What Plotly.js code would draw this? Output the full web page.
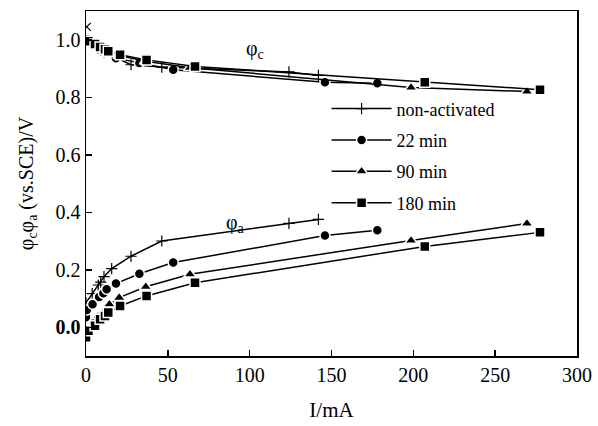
<!DOCTYPE html>
<html>
<head>
<meta charset="utf-8">
<script src="https://cdn.plot.ly/plotly-3.0.1.min.js"></script>
<style>html,body{margin:0;padding:0;background:#fff;}#chart{width:598px;height:426px;}</style>
</head>
<body>
<div id="chart"></div>
<script>
// ---- data (I in mA, potential in V vs. SCE) ----
const seriesNames = ["non-activated", "22 min", "90 min", "180 min"];

const xNon = [0, 3.8, 7.5, 9, 11, 15.7, 27.5, 46.3, 124, 142];
const cathNon = [1.0, 0.985, 0.97, 0.965, 0.958, 0.945, 0.913, 0.905, 0.888, 0.876];
const anodNon = [0.085, 0.117, 0.147, 0.157, 0.176, 0.204, 0.247, 0.300, 0.361, 0.375];

const x22 = [0, 0.5, 4, 8, 10.6, 12.6, 18.3, 32.6, 53.3, 146, 178];
const cath22 = [1.005, 0.995, 0.985, 0.972, 0.965, 0.958, 0.936, 0.919, 0.896, 0.852, 0.849];
const anod22 = [0.035, 0.06, 0.08, 0.105, 0.118, 0.132, 0.152, 0.186, 0.225, 0.319, 0.337];

const x90 = [0.5, 4.5, 7.5, 10.6, 12.6, 14.3, 20.3, 36.5, 63.5, 198.6, 269.4];
const cath90 = [1.0, 0.99, 0.98, 0.97, 0.963, 0.957, 0.945, 0.925, 0.903, 0.834, 0.820];
const anod90 = [-0.01, 0.02, 0.039, 0.051, 0.066, 0.080, 0.103, 0.141, 0.184, 0.302, 0.361];

const x180 = [0, 1.5, 5.5, 8.6, 11.6, 13.6, 20.8, 37, 66.6, 207, 277.4];
const cath180 = [1.0, 0.995, 0.985, 0.975, 0.967, 0.96, 0.948, 0.93, 0.907, 0.852, 0.826];
const anod180 = [-0.035, -0.012, 0.005, 0.028, 0.039, 0.051, 0.074, 0.109, 0.155, 0.281, 0.330];

// open-circuit point marked with a cross
const xOC = [0.5];
const yOC = [1.045];

const xTicks = [0, 50, 100, 150, 200, 250, 300];
const yTicks = [0, 0.2, 0.4, 0.6, 0.8, 1.0];
const yTickText = ["<b>0.0</b>", "0.2", "0.4", "0.6", "0.8", "1.0"];

// ---- styling ----
const serif = "Liberation Serif";
const markerStyles = [
  {symbol: "cross-thin", size: 8, color: "#000", line: {color: "#000", width: 1.2}},
  {symbol: "circle", size: 10, color: "#000", line: {color: "#fff", width: 1.5}},
  {symbol: "triangle-up", size: 11, color: "#000", line: {color: "#fff", width: 1.5}},
  {symbol: "square", size: 10, color: "#000", line: {color: "#fff", width: 1.5}}
];
const xs = [xNon, x22, x90, x180];
const cs = [cathNon, cath22, cath90, cath180];
const as = [anodNon, anod22, anod90, anod180];

const traces = [];
for (let i = 0; i < 4; i++) {
  traces.push({
    x: xs[i], y: cs[i], type: "scatter", mode: "lines+markers",
    name: seriesNames[i], legendgroup: "g" + i, showlegend: true,
    line: {color: "#000", width: 1.5}, marker: markerStyles[i]
  });
}
for (let i = 0; i < 4; i++) {
  traces.push({
    x: xs[i], y: as[i], type: "scatter", mode: "lines+markers",
    name: seriesNames[i], legendgroup: "g" + i, showlegend: false,
    line: {color: "#000", width: 1.5}, marker: markerStyles[i]
  });
}
traces.push({
  x: xOC, y: yOC, type: "scatter", mode: "markers", showlegend: false,
  marker: {symbol: "x-thin", size: 8, color: "#000", line: {color: "#000", width: 1.2}}
});

const layout = {
  width: 598, height: 426,
  margin: {l: 86, r: 21, t: 11, b: 70},
  paper_bgcolor: "#fff", plot_bgcolor: "#fff",
  font: {family: serif, color: "#000", size: 18},
  showlegend: true,
  legend: {
    x: 0.49, y: 0.77, xanchor: "left", yanchor: "top",
    font: {family: serif, size: 18, color: "#000"},
    bgcolor: "rgba(0,0,0,0)", tracegroupgap: 5, traceorder: "grouped",
    itemwidth: 60
  },
  xaxis: {
    range: [0, 300], tickvals: xTicks, ticktext: xTicks.map(String),
    ticks: "inside", ticklen: 6, tickwidth: 1.5, tickcolor: "#000",
    showline: true, linecolor: "#000", linewidth: 1.5, mirror: true,
    showgrid: false, zeroline: false,
    tickfont: {family: serif, size: 20, color: "#000"},
    title: {text: "I/mA", font: {family: serif, size: 21, color: "#000"}, standoff: 18}
  },
  yaxis: {
    range: [-0.1, 1.1], tickvals: yTicks, ticktext: yTickText,
    ticks: "inside", ticklen: 6, tickwidth: 1.5, tickcolor: "#000",
    showline: true, linecolor: "#000", linewidth: 1.5, mirror: true,
    showgrid: false, zeroline: false,
    tickfont: {family: serif, size: 20, color: "#000"},
    title: {text: "φ<sub>c</sub>φ<sub>a</sub> (vs.SCE)/V", font: {family: serif, size: 20, color: "#000"}, standoff: 16}
  },
  annotations: [
    {x: 103.3, y: 0.965, xref: "x", yref: "y", text: "φ<sub>c</sub>", showarrow: false, font: {family: serif, size: 20, color: "#000"}},
    {x: 91.6, y: 0.36, xref: "x", yref: "y", text: "φ<sub>a</sub>", showarrow: false, font: {family: serif, size: 20, color: "#000"}}
  ]
};

Plotly.newPlot("chart", traces, layout, {displayModeBar: false, staticPlot: true});
</script>
</body>
</html>
